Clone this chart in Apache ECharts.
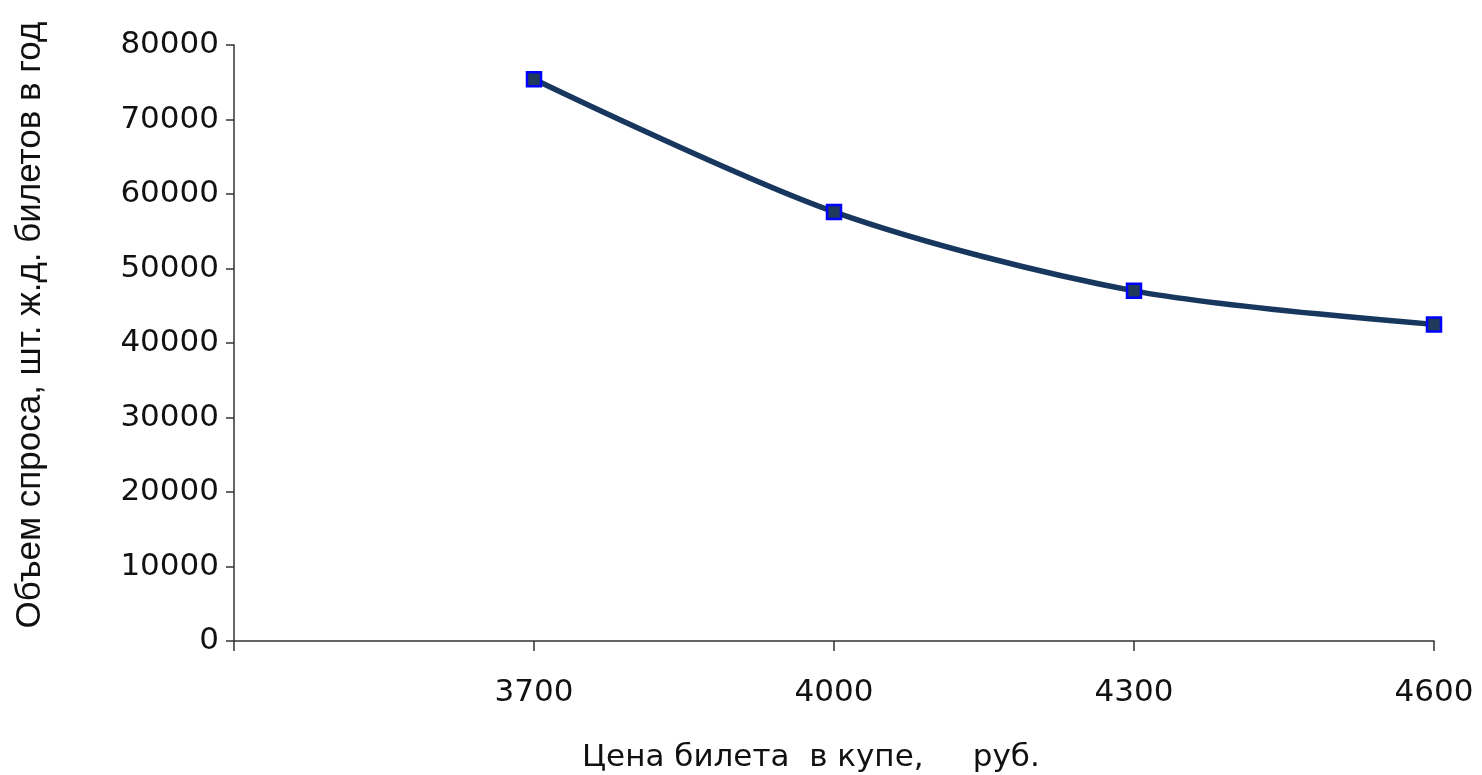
<!DOCTYPE html>
<html><head><meta charset="utf-8">
<script src="https://cdn.jsdelivr.net/npm/echarts@6/dist/echarts.min.js"></script>
<style>html,body{margin:0;padding:0;background:#fff}#c{width:1482px;height:775px}</style>
</head><body><div id="c"></div>
<script>
const prices = [3700, 4000, 4300, 4600];
const demand = [75400, 57600, 47000, 42500];
const xTicks = [3400, 3700, 4000, 4300, 4600];
const xTitle = 'Цена билета  в купе,     руб.';
const yTitle = 'Объем спроса, шт. ж.д. билетов в год';

const chart = echarts.init(document.getElementById('c'), null, {renderer: 'canvas'});
chart.setOption({
  animation: false,
  grid: {left: 234, right: 48, top: 45, bottom: 134},
  xAxis: {
    type: 'value', min: xTicks[0], max: xTicks[xTicks.length - 1], interval: 300,
    axisLine: {lineStyle: {color: '#333', width: 1.5}},
    axisTick: {length: 10, lineStyle: {color: '#333', width: 1.5}},
    axisLabel: {fontFamily: 'DejaVu Sans', fontSize: 31, color: '#111', margin: 36,
      formatter: v => v === xTicks[0] ? '' : String(v)},
    splitLine: {show: false}
  },
  yAxis: {
    type: 'value', min: 0, max: 80000, interval: 10000,
    axisLine: {show: true, lineStyle: {color: '#333', width: 1.5}},
    axisTick: {show: true, length: 8, lineStyle: {color: '#333', width: 1.5}},
    axisLabel: {fontFamily: 'DejaVu Sans', fontSize: 31, color: '#111', margin: 15,
      formatter: v => String(v)},
    splitLine: {show: false}
  },
  series: [{
    type: 'line',
    data: prices.map((p, i) => [p, demand[i]]),
    smooth: 0.3,
    symbol: 'rect', symbolSize: 14,
    itemStyle: {color: '#1F3A5A', borderColor: '#0000FF', borderWidth: 2.5},
    lineStyle: {color: '#17375E', width: 5.5}
  }],
  graphic: [
    {type: 'text', left: 582, top: 742, style: {text: xTitle, font: '31px "DejaVu Sans"', fill: '#111'}},
    {type: 'text', x: 30, y: 325, rotation: Math.PI / 2,
      style: {text: yTitle, font: '35px "Liberation Sans"', fill: '#111', align: 'center', verticalAlign: 'middle'}}
  ]
});
</script></body></html>
